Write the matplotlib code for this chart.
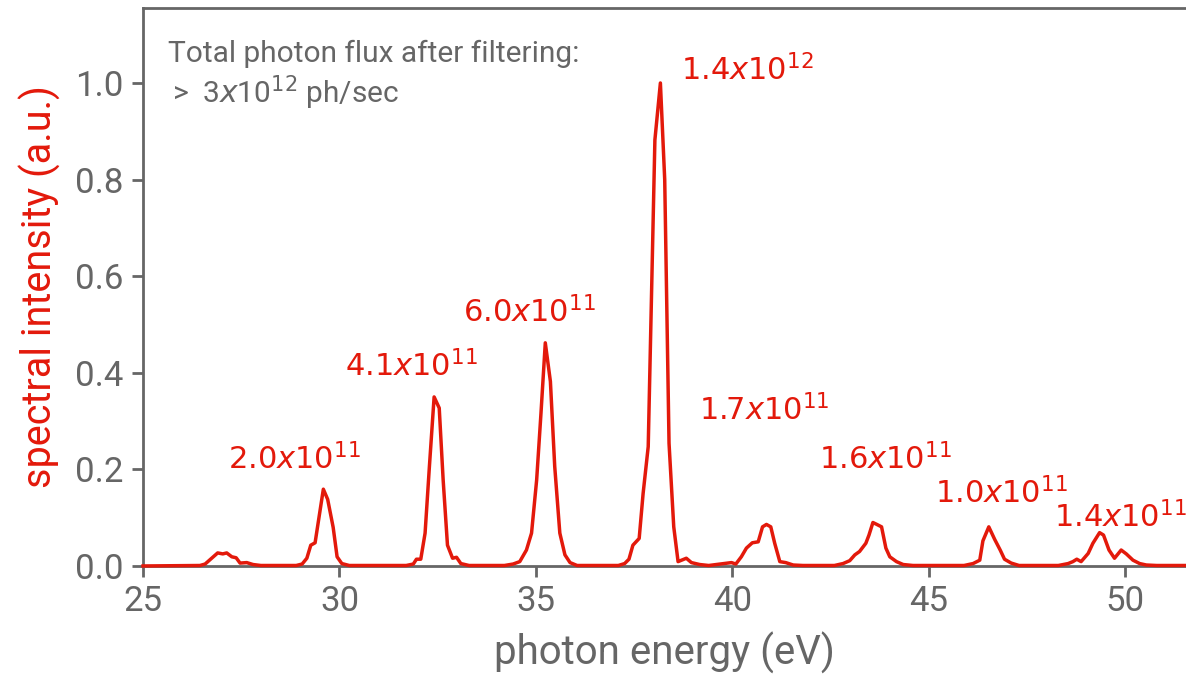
import numpy as np
import matplotlib
matplotlib.use("Agg")
import matplotlib.pyplot as plt

# spectrum (photon energy in eV, normalised intensity)
energy = [25.0, 26.45, 26.58, 26.9, 27.03, 27.13, 27.26, 27.37, 27.47, 27.64, 27.8, 28.0,
          28.9, 29.05, 29.17, 29.27, 29.38, 29.59, 29.7, 29.84, 29.94, 30.06, 30.25,
          31.7, 31.88, 31.96, 32.07, 32.18, 32.29, 32.41, 32.54, 32.64, 32.75, 32.88, 32.98, 33.09, 33.3,
          34.2, 34.42, 34.59, 34.76, 34.89, 35.02, 35.13, 35.24, 35.37, 35.48, 35.61, 35.74, 35.87, 36.05,
          37.1, 37.26, 37.37, 37.47, 37.63, 37.73, 37.86, 38.03, 38.17, 38.28, 38.39, 38.51, 38.62,
          38.83, 38.96, 39.17, 39.4,
          39.98, 40.09, 40.23, 40.36, 40.51, 40.66, 40.77, 40.87, 40.98, 41.08, 41.21, 41.36, 41.55, 41.8,
          42.6, 42.82, 42.99, 43.12, 43.24, 43.4, 43.48, 43.58, 43.68, 43.8, 43.91, 44.01, 44.18, 44.35, 44.6,
          45.9, 46.13, 46.3, 46.38, 46.53, 46.68, 46.82, 46.93, 47.1, 47.3,
          48.3, 48.55, 48.67, 48.77, 48.88, 49.06, 49.18, 49.35, 49.45, 49.59, 49.73, 49.9, 50.03,
          50.2, 50.37, 50.54, 50.8, 51.6]
intensity = [0.0, 0.001, 0.004, 0.027, 0.025, 0.027, 0.019, 0.017, 0.006, 0.007, 0.003, 0.001,
             0.001, 0.004, 0.016, 0.043, 0.048, 0.159, 0.138, 0.08, 0.019, 0.005, 0.001,
             0.001, 0.004, 0.014, 0.014, 0.068, 0.206, 0.35, 0.327, 0.178, 0.043, 0.016, 0.018, 0.005, 0.001,
             0.001, 0.004, 0.009, 0.033, 0.068, 0.178, 0.316, 0.462, 0.382, 0.206, 0.068, 0.023, 0.007, 0.001,
             0.001, 0.005, 0.014, 0.043, 0.057, 0.15, 0.247, 0.882, 1.0, 0.80, 0.254, 0.081, 0.009,
             0.016, 0.007, 0.003, 0.001,
             0.007, 0.004, 0.019, 0.037, 0.048, 0.05, 0.081, 0.086, 0.081, 0.047, 0.009, 0.007, 0.002, 0.001,
             0.001, 0.005, 0.011, 0.023, 0.03, 0.047, 0.064, 0.09, 0.086, 0.081, 0.037, 0.019, 0.009, 0.003, 0.001,
             0.001, 0.005, 0.012, 0.052, 0.081, 0.055, 0.033, 0.014, 0.006, 0.001,
             0.001, 0.005, 0.009, 0.014, 0.009, 0.026, 0.047, 0.069, 0.064, 0.033, 0.016, 0.033, 0.025,
             0.012, 0.005, 0.002, 0.001, 0.001]

# per-harmonic flux labels and where they sit (eV, intensity)
flux_labels = ["2.0", "4.1", "6.0", "1.4", "1.7", "1.6", "1.0", "1.4"]
flux_exps = ["11", "11", "11", "12", "11", "11", "11", "11"]
label_x = [27.16, 30.14, 33.14, 38.69, 39.15, 42.2, 45.15, 48.2]
label_y = [0.199, 0.393, 0.505, 1.006, 0.302, 0.199, 0.13, 0.079]

RED = "#e3190b"
GREY = "#666666"

plt.rcParams["font.family"] = ["Roboto", "DejaVu Sans"]

fig = plt.figure(figsize=(11.86, 6.77), dpi=100)
ax = fig.add_axes([0.1206, 0.164, 0.8794, 0.824])

ax.plot(energy, intensity, color=RED, lw=2.5, clip_on=False, zorder=3)

for lab, ex, x, y in zip(flux_labels, flux_exps, label_x, label_y):
    ax.text(x, y, f"{lab}$x$10$^{{{ex}}}$", color=RED, fontsize=22,
            family="DejaVu Sans", ha="left", va="baseline")

ax.text(0.024, 1.043, "Total photon flux after filtering:", color=GREY, fontsize=21.5,
        transform=ax.get_yaxis_transform(), ha="left", va="baseline")
ax.text(0.028, 0.957, ">  3$x$10$^{12}$ ph/sec", color=GREY, fontsize=21.5,
        transform=ax.get_yaxis_transform(), ha="left", va="baseline")

ax.set_xlim(25, 51.55)
ax.set_ylim(0, 1.155)
ax.set_xticks([25, 30, 35, 40, 45, 50])
ax.set_yticks([0.0, 0.2, 0.4, 0.6, 0.8, 1.0])
ax.set_yticklabels(["0.0", "0.2", "0.4", "0.6", "0.8", "1.0"])

ax.set_xlabel("photon energy (eV)", color=GREY, fontsize=29, labelpad=10)
ax.set_ylabel("spectral intensity (a.u.)", color=RED, fontsize=28.5, labelpad=10)

ax.spines["right"].set_visible(False)
for s in ["left", "bottom", "top"]:
    ax.spines[s].set_color(GREY)
    ax.spines[s].set_linewidth(2)
ax.tick_params(colors=GREY, labelsize=25, width=2, length=8, pad=6)

fig.savefig("out.png", dpi=100)
